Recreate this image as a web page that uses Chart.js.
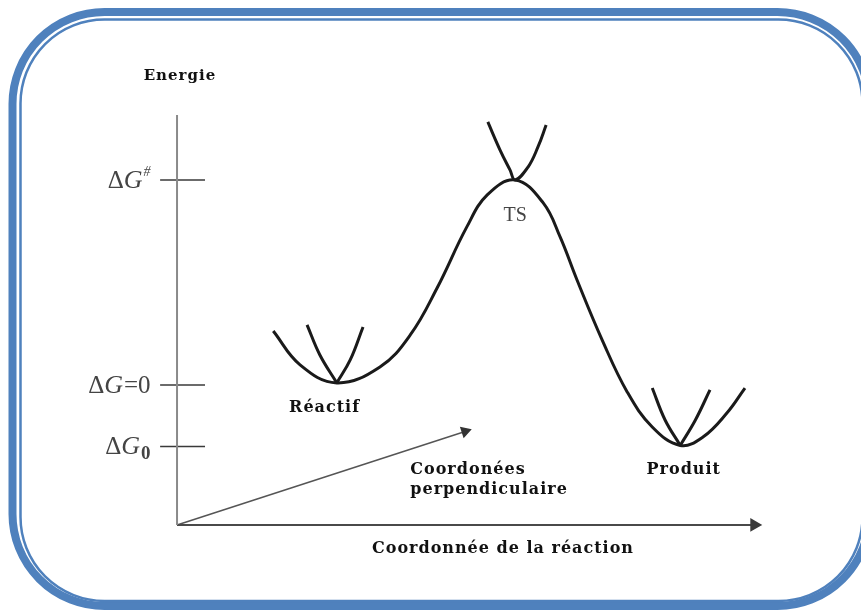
<!DOCTYPE html>
<html>
<head>
<meta charset="utf-8">
<script src="https://cdn.jsdelivr.net/npm/chart.js@4"></script>
<style>
  body { margin: 0; background: #fff; }
  canvas { display: block; }
</style>
</head>
<body>
<canvas id="energyChart" width="861" height="610"></canvas>
<script>
// x = reaction coordinate (0..100), y = free energy (ΔG=0 -> 0, ΔG# -> 100)
const mainCurveX = [16.5, 21.1, 27.4, 34.8, 40.0, 44.6, 49.7, 53.2, 58.0, 62.8, 65.7, 68.6, 72.9, 77.2, 81.5, 86.3, 90.2, 94.3, 97.4];
const mainCurveY = [26.3, 9.8, 1.0, 8.8, 24.4, 47.3, 77.1, 92.7, 100, 88.8, 72.2, 51.2, 22.0, -3.4, -20.5, -29.5, -25.4, -13.7, -1.5];

const reactLeftX = [22.3, 24.5, 27.4];
const reactLeftY = [29.3, 14.6, 1.0];
const reactRightX = [27.4, 29.7, 31.9];
const reactRightY = [1.0, 12.2, 28.3];

const tsX = [53.3, 55.4, 57.1, 58.0, 60.2, 61.9, 63.3];
const tsY = [128.3, 114.6, 104.9, 100, 106.3, 116.1, 126.8];

const prodLeftX = [81.5, 83.7, 86.3];
const prodLeftY = [-1.5, -17.1, -29.5];
const prodRightX = [86.3, 88.9, 91.4];
const prodRightY = [-29.5, -17.1, -2.4];

// energy levels marked on the axis
const levelValues = [100, 0, -30];
const levelLabels = [['G', 'sup', '#'], ['G', 'txt', '=0'], ['G', 'sub', '0']];

const axisBottom = -68.3;
const axisTop = 131.7;
const axisEndX = 99.0;
const perpEnd = [49.4, -22.7];

const pts = (xs, ys) => xs.map((x, i) => ({ x: x, y: ys[i] }));

const curveStyle = {
    borderColor: '#1a1a1a',
    borderWidth: 3,
    pointRadius: 0,
    tension: 0.4,
    fill: false
};

const datasets = [
    Object.assign({ data: pts(mainCurveX, mainCurveY) }, curveStyle),
    Object.assign({ data: pts(reactLeftX, reactLeftY) }, curveStyle),
    Object.assign({ data: pts(reactRightX, reactRightY) }, curveStyle),
    Object.assign({ data: pts(tsX, tsY) }, curveStyle),
    Object.assign({ data: pts(prodLeftX, prodLeftY) }, curveStyle),
    Object.assign({ data: pts(prodRightX, prodRightY) }, curveStyle),
    {
        // energy axis
        data: [{ x: 0, y: axisBottom }, { x: 0, y: axisTop }],
        borderColor: '#8a8a8a', borderWidth: 2, pointRadius: 0
    },
    {
        // reaction coordinate axis
        data: [{ x: 0, y: axisBottom }, { x: axisEndX, y: axisBottom }],
        borderColor: '#4a4a4a', borderWidth: 2,
        pointRadius: [0, 6], pointStyle: 'triangle', pointRotation: 90,
        pointBackgroundColor: '#3a3a3a', pointBorderColor: '#3a3a3a'
    },
    {
        // perpendicular coordinate
        data: [{ x: 0, y: axisBottom }, { x: perpEnd[0], y: perpEnd[1] }],
        borderColor: '#555', borderWidth: 1.5,
        pointRadius: [0, 5.5], pointStyle: 'triangle', pointRotation: 72,
        pointBackgroundColor: '#333', pointBorderColor: '#333'
    }
];

levelValues.forEach((v) => {
    datasets.push({
        data: [{ x: -2.9, y: v }, { x: 4.8, y: v }],
        borderColor: '#3a3a3a', borderWidth: 1.5, pointRadius: 0
    });
});

// rounded blue double frame
const framePlugin = {
    id: 'frame',
    beforeDraw(chart) {
        const ctx = chart.ctx;
        ctx.save();
        ctx.fillStyle = '#fff';
        ctx.fillRect(0, 0, chart.width, chart.height);
        ctx.strokeStyle = '#4f81bd';
        ctx.lineWidth = 8;
        ctx.beginPath();
        ctx.roundRect(12.5, 12, 857, 594, 92);
        ctx.stroke();
        ctx.lineWidth = 2.5;
        ctx.beginPath();
        ctx.roundRect(20.5, 19.5, 842, 581.5, 84);
        ctx.stroke();
        ctx.restore();
    }
};

const labels = [
    { text: 'Energie', x: 0.5, y: 150.7, align: 'center' },
    { text: 'Réactif', x: 25.3, y: -11.2, align: 'center' },
    { text: 'Coordonées', x: 40.0, y: -41.5, align: 'left' },
    { text: 'perpendiculaire', x: 40.0, y: -51.2, align: 'left' },
    { text: 'Produit', x: 86.9, y: -41.5, align: 'center' },
    { text: 'Coordonnée de la réaction', x: 55.9, y: -80, align: 'center' }
];

const textPlugin = {
    id: 'texts',
    afterDraw(chart) {
        const ctx = chart.ctx;
        const xs = chart.scales.x;
        const ys = chart.scales.y;
        ctx.save();
        ctx.textBaseline = 'middle';
        ctx.fillStyle = '#111';
        ctx.letterSpacing = '1px';
        labels.forEach((l) => {
            ctx.textAlign = l.align;
            ctx.font = 'bold 16px "DejaVu Serif"';
            if (l.text === 'Energie') ctx.font = 'bold 15px "DejaVu Serif"';
            ctx.fillText(l.text, xs.getPixelForValue(l.x), ys.getPixelForValue(l.y));
        });
        ctx.letterSpacing = '0px';

        ctx.textAlign = 'center';
        ctx.fillStyle = '#444';
        ctx.font = '20px "Liberation Serif"';
        ctx.fillText('TS', xs.getPixelForValue(58), ys.getPixelForValue(82.4));

        // ΔG labels, right aligned before the tick marks
        levelValues.forEach((v, i) => {
            const [g, kind, extra] = levelLabels[i];
            const yp = ys.getPixelForValue(v) + 1;
            const right = xs.getPixelForValue(-4.7);
            ctx.textAlign = 'left';
            ctx.textBaseline = 'middle';
            const fD = '25px "Liberation Serif"';
            const fG = 'italic 26px "Liberation Serif"';
            const fE = kind === 'txt' ? '25px "Liberation Serif"' : (kind === 'sub' ? 'bold 19px "Liberation Serif"' : 'italic 14px "Liberation Serif"');
            ctx.font = fD; const wD = ctx.measureText('Δ').width;
            ctx.font = fG; const wG = ctx.measureText(g).width;
            ctx.font = fE; const wE = ctx.measureText(extra).width;
            let x = right - (wD + wG + wE);
            ctx.font = fD; ctx.fillText('Δ', x, yp); x += wD;
            ctx.font = fG; ctx.fillText(g, x, yp); x += wG + 1;
            ctx.font = fE;
            let dy = 0;
            if (kind === 'sup') dy = -9;
            if (kind === 'sub') dy = 7;
            ctx.fillText(extra, x, yp + dy);
        });
        ctx.restore();
    }
};

new Chart(document.getElementById('energyChart').getContext('2d'), {
    type: 'line',
    data: { datasets: datasets },
    options: {
        responsive: false,
        animation: false,
        devicePixelRatio: 1,
        layout: { padding: 0, autoPadding: false },
        datasets: { line: { clip: false } },
        plugins: {
            legend: { display: false },
            tooltip: { enabled: false }
        },
        scales: {
            x: { type: 'linear', display: false, min: -30.36, max: 117.3 },
            y: { type: 'linear', display: false, min: -109.8, max: 187.8 }
        }
    },
    plugins: [framePlugin, textPlugin]
});
</script>
</body>
</html>
